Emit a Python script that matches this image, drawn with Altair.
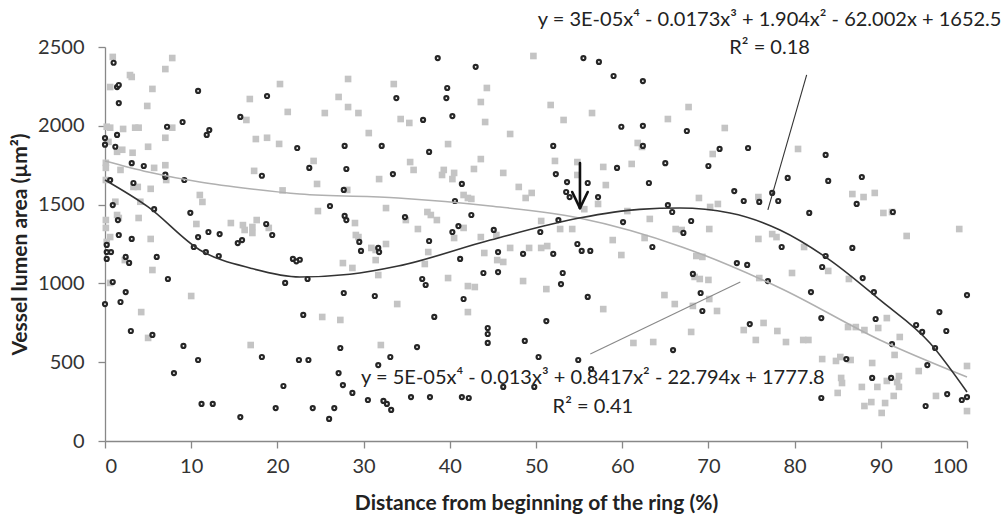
import altair as alt
import pandas as pd

# ---- scatter data ----
dark_x = [1.0,1.4,1.6,1.6,0,1.4,1.2,0,3.1,4.5,7.0,7.0,9.2,0.6,3.3,10.8,9.0,7.2,11.8,12.1,15.7,18.8,22.3,23.7,18.2,26.1,5.7,9.9,1.5,0.9,1.6,3.1,10.8,12.0,13.3,15.4,15.9,18.7,19.4,10.3,11.7,13.2,6.0,0.2,0.2,0.7,0.2,21.8,22.6,22.2,
          2.4,2.8,0.9,0,1.8,2.4,3.0,5.5,7.3,9.1,8.0,10.8,11.2,12.5,15.7,18.2,19.8,20.7,20.9,22.5,23.6,23.0,23.5,24.1,26.6,26.0,27.3,27.1,
          27.8,32.1,28.0,33.4,27.8,28.0,27.7,29.5,29.7,31.7,31.8,27.7,31.3,
          38.6,43.0,39.7,39.6,33.8,40.3,36.9,37.6,41.4,40.6,34.8,42.5,41.0,40.3,45.1,37.6,52.0,52.3,53.6,53.5,53.9,56.0,57.2,55.5,57.3,59.0,62.4,59.9,62.4,62.4,59.4,65.0,63.1,52.6,50.5,60.1,54.8,55.3,56.3,63.5,65.3,45.6,48.5,52.0,
          41.2,43.9,45.6,36.8,37.2,41.6,53.1,52.9,56.0,38.2,51.2,44.4,44.4,44.4,36.2,48.7,33.1,31.7,50.3,54.9,56.4,27.6,28.7,30.5,32.3,32.7,33.2,35.5,37.7,41.4,42.2,46.2,49.8,
          67.5,71.3,70.0,74.6,73.0,74.1,75.9,77.4,78.1,79.2,83.6,83.9,87.8,87.2,91.4,81.7,65.8,68.0,67.1,78.5,86.7,83.6,
          73.3,74.5,68.2,76.9,69.1,69.3,81.9,83.2,83.1,87.9,89.2,89.4,74.8,65.9,91.3,86.0,94.1,94.8,96.3,95.4,96.8,97.6,100,89.0,91.2,83.1,97.7,95.2,99.4,100]
dark_y = [2400,2246,2259,2144,1922,1942,1867,1880,1763,1745,1675,1690,1656,1656,1637,2221,2024,1994,1942,1973,2056,2189,1859,1733,1683,1491,1471,1448,1402,1497,1307,1282,1294,1326,1313,1256,1275,1377,1307,1231,1199,1174,1168,1244,1199,1199,1155,1155,1150,1140,
          1168,1130,1009,869,882,945,698,673,1028,603,431,514,235,235,152,533,209,349,1003,514,514,800,1028,209,209,140,590,431,
          1872,1872,1726,1694,1428,1402,1593,1263,1206,1225,1199,939,920,
          2430,2374,2240,2176,2176,2062,2037,1834,1631,1523,1421,1434,1364,1326,1339,1269,1872,1694,1643,1580,1548,1637,1548,2430,2405,2316,2284,1994,2000,1872,1733,1763,1637,1402,1326,1389,1250,1206,1206,1231,1497,1199,1187,1187,
          1155,1066,1072,1028,990,901,1066,996,914,787,761,717,679,622,596,635,533,482,533,514,457,355,305,260,254,235,197,279,279,279,273,343,343,
          1967,1853,1745,1859,1586,1523,1517,1574,1523,1669,1815,1650,1675,1504,1453,1447,1453,1396,1320,1231,1225,1174,
          1129,1117,1060,1015,939,825,945,1104,780,1034,945,774,742,577,615,520,736,692,590,482,818,698,926,400,400,273,298,222,260,279]

gray_x = [2.3,0.6,5.5,10.0,4.2,5.0,16.9,25.2,27.3,
          0.9,7.8,0.6,2.9,3.1,5.5,7.0,4.9,0.2,0.6,2.1,3.5,3.9,7.0,7.8,0.4,1.4,2.0,3.2,5.0,0.1,0.1,1.8,5.7,7.0,7.1,0.1,3.3,3.8,5.3,4.1,1.2,0.1,1.4,1.6,3.9,0.1,0.6,0.2,5.3,11.0,11.3,10.6,14.6,16.0,16.2,17.1,17.1,17.6,19.0,16.8,17.5,18.8,20.2,16.4,17.3,20.3,21.2,24.2,24.6,25.5,20.6,24.7,27.1,
          29.0,29.1,29.4,30.9,31.4,32.6,32.6,31.8,31.4,31.7,27.6,28.7,28.1,
          28.2,28.2,29.4,33.5,30.6,34.3,35.3,44.3,43.6,44.1,39.8,35.4,35.8,39.3,40.5,39.1,40.3,43.6,42.8,46.2,47.0,48.0,48.8,49.5,41.6,42.1,42.5,49.7,51.7,53.2,56.5,65.3,52.2,54.8,54.8,57.8,58.1,61.1,61.8,62.3,57.2,55.6,60.6,63.2,50.6,52.8,54.2,34.9,37.4,37.8,38.5,36.3,37.5,40.5,41.6,43.6,45.4,44.0,47.0,49.2,50.6,51.3,58.9,59.9,62.6,
          37.1,39.8,33.9,32.0,42.1,42.9,42.1,45.5,46.2,48.5,51.2,64.9,57.8,61.3,63.6,
          67.7,71.9,70.5,80.4,75.8,68.9,70.2,71.1,86.7,88.0,89.3,90.3,91.3,93.0,99.1,66.2,66.9,70.1,75.8,77.4,77.9,81.1,68.6,69.3,
          70.0,69.0,68.4,70.1,71.0,68.2,66.1,68.0,74.1,76.4,78.0,75.5,79.0,81.0,81.6,79.7,75.9,83.9,86.3,86.2,87.1,88.1,89.7,90.7,92.2,91.6,83.2,84.8,85.3,86.5,89.0,85.4,85.5,85.0,87.8,89.6,90.7,91.9,92.1,92.1,88.9,88.1,90.5,90.1,91.5,94.4,96.4,100,100]
gray_y = [1148,1003,1085,920,818,654,609,787,768,
          2437,2430,2246,2322,2310,2234,2360,2126,1994,1988,1980,1988,1988,1924,1988,1898,1835,1848,1829,1867,1765,1733,1720,1733,1750,1656,1656,1612,1612,1600,1518,1518,1402,1434,1415,1415,1352,1294,1263,1282,1561,1517,1377,1383,1370,1339,1358,1320,1402,1352,2170,1916,1924,1885,2037,1714,2265,2088,1777,1631,2081,1590,1459,2183,
          1383,1307,1294,1225,1212,1250,1478,1662,1148,1053,1129,1098,1593,
          2297,2119,2081,2265,1954,2043,2018,2240,2151,2024,1884,1770,1720,1720,1701,1688,1662,1789,1726,1701,1948,1612,1542,1574,1561,1542,1536,2443,2132,2037,2081,2043,1777,1770,1688,1739,1624,1758,1891,1866,1504,1471,1459,1409,1396,1345,1345,1402,1453,1434,1402,1345,1199,1288,1352,1294,1307,1193,1225,1225,1225,1237,1275,1180,1288,
          1123,1034,869,609,983,977,818,1148,1136,1015,964,926,837,622,628,
          2119,1986,1821,1853,1548,1542,1485,1504,1567,1548,1574,1447,1453,1301,1345,1345,1339,1345,1282,1313,1294,1231,1174,1168,
          1022,1028,1041,901,825,857,869,692,704,749,698,641,628,641,641,1066,1034,1079,1028,723,723,704,717,780,660,546,520,508,533,514,495,400,368,305,343,343,381,374,343,412,247,222,241,178,286,444,286,476,190]

# ---- trend curves ----
dark_curve_x = [0, 5, 11, 17, 22.6, 28.4, 34, 44.7, 55, 62, 66.7, 72.5, 78.3, 84.1, 89.9, 95.7, 100]
dark_curve_y = [1656, 1485, 1212, 1095, 1041, 1058, 1110, 1275, 1415, 1470, 1478, 1447, 1339, 1148, 895, 622, 311]
gray_curve_x = [0, 5, 11, 17, 22.6, 34, 44.7, 55, 67, 78.3, 89.9, 100]
gray_curve_y = [1777, 1707, 1643, 1599, 1567, 1542, 1491, 1415, 1230, 971, 641, 406]

# ---- annotations ----
eq_text = ["y = 3E-05x⁴ - 0.0173x³ + 1.904x² - 62.002x + 1652.5", "R² = 0.18",
           "y = 5E-05x⁴ - 0.013x³ + 0.8417x² - 22.794x + 1777.8", "R² = 0.41"]
eq_x = [77.1, 77.1, 56.6, 56.6]
eq_y = [2671, 2494, 400, 216]

leader_x1 = [81.4, 56.3]
leader_y1 = [2323, 552]
leader_x2 = [76.9, 73.7]
leader_y2 = [1466, 1009]
leader_col = ["#333333", "#888888"]

arrow_x1 = [55.1, 54.2, 56.0]
arrow_y1 = [1764, 1580, 1580]
arrow_x2 = [55.1, 55.1, 55.1]
arrow_y2 = [1478, 1478, 1478]

x_ticks = list(range(0, 101, 10))
y_ticks = list(range(0, 2501, 500))

xs = alt.Scale(domain=[0, 100], nice=False, zero=False)
ys = alt.Scale(domain=[0, 2500], nice=False)

x_axis = alt.Axis(values=x_ticks, title="Distance from beginning of the ring (%)", format="d",
                  labelPadding=8, titleY=62, titleBaseline="middle")
y_axis = alt.Axis(values=y_ticks, title="Vessel lumen area (µm²)", format="d",
                  labelPadding=14, titleX=-85, titleY=197, titleAngle=-90,
                  titleAlign="center", titleBaseline="middle")

dark_df = pd.DataFrame({"x": dark_x, "y": dark_y})
gray_df = pd.DataFrame({"x": gray_x, "y": gray_y})

gray_pts = alt.Chart(gray_df).mark_square(size=44, color="#c4c4c4", opacity=1).encode(
    x=alt.X("x:Q", scale=xs, axis=x_axis), y=alt.Y("y:Q", scale=ys, axis=y_axis))
dark_pts = alt.Chart(dark_df).mark_point(shape="circle", size=16, filled=True, fill="white",
                                         stroke="#262626", strokeWidth=2.2, opacity=1).encode(
    x=alt.X("x:Q", scale=xs), y=alt.Y("y:Q", scale=ys))

gray_line = alt.Chart(pd.DataFrame({"x": gray_curve_x, "y": gray_curve_y})).mark_line(
    color="#b0b0b0", strokeWidth=1.6, interpolate="monotone").encode(
    x=alt.X("x:Q", scale=xs), y=alt.Y("y:Q", scale=ys))
dark_line = alt.Chart(pd.DataFrame({"x": dark_curve_x, "y": dark_curve_y})).mark_line(
    color="#333333", strokeWidth=1.6, interpolate="monotone").encode(
    x=alt.X("x:Q", scale=xs), y=alt.Y("y:Q", scale=ys))

leaders = alt.Chart(pd.DataFrame({"x": leader_x1, "y": leader_y1, "x2": leader_x2, "y2": leader_y2,
                                  "c": leader_col})).mark_rule(strokeWidth=1.1).encode(
    x=alt.X("x:Q", scale=xs), y=alt.Y("y:Q", scale=ys), x2="x2:Q", y2="y2:Q",
    color=alt.Color("c:N", scale=None))

arrow = alt.Chart(pd.DataFrame({"x": arrow_x1, "y": arrow_y1, "x2": arrow_x2, "y2": arrow_y2})).mark_rule(
    strokeWidth=2.6, color="#111111", strokeCap="round").encode(
    x=alt.X("x:Q", scale=xs), y=alt.Y("y:Q", scale=ys), x2="x2:Q", y2="y2:Q")

texts = alt.Chart(pd.DataFrame({"x": eq_x, "y": eq_y, "t": eq_text})).mark_text(
    font="Lato", fontSize=20, color="#222222", align="center", baseline="middle").encode(
    x=alt.X("x:Q", scale=xs), y=alt.Y("y:Q", scale=ys), text="t:N")

chart = alt.layer(gray_pts, dark_pts, gray_line, dark_line, leaders, arrow, texts).properties(
    width=862, height=394,
    autosize=alt.AutoSizeParams(type="none"),
    padding={"left": 105, "top": 47, "right": 37, "bottom": 77},
    background="white",
).configure_view(stroke=None).configure_axis(
    grid=False, domainColor="#888888", tickColor="#888888", tickSize=7, domainWidth=1.3, tickWidth=1.3,
    labelFont="Lato", labelFontSize=20, labelColor="#333333",
    titleFont="Lato", titleFontSize=21, titleFontWeight="bold", titleColor="#222222",
)

chart.save("out.html", embed_options={"renderer": "svg", "actions": False})
